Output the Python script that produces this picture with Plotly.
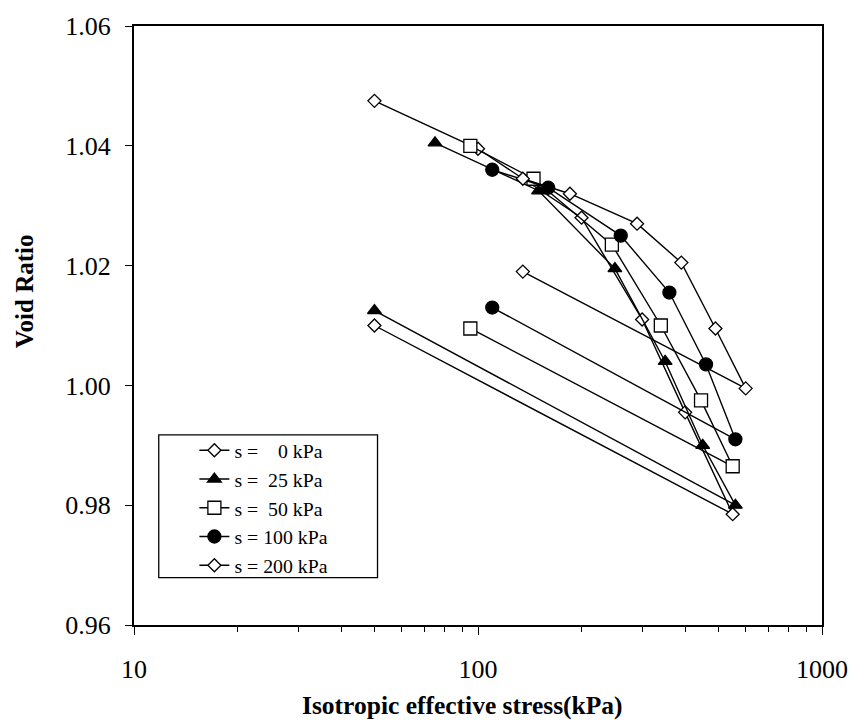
import plotly.graph_objects as go

# ---- data ----
names = ["s =\u00a0\u00a0\u00a0\u00a00 kPa", "s =\u00a0\u00a025 kPa", "s =\u00a0\u00a050 kPa",
         "s = 100 kPa", "s = 200 kPa"]

x_s0 = [50, 100, 200, 300, 400, 550, 50]
y_s0 = [1.0475, 1.0395, 1.028, 1.011, 0.9955, 0.9785, 1.010]

x_s25 = [75, 150, 250, 350, 450, 560, 50]
y_s25 = [1.0405, 1.0325, 1.0195, 1.004, 0.990, 0.980, 1.0125]

x_s50 = [95, 145, 245, 340, 445, 550, 95]
y_s50 = [1.040, 1.0345, 1.0235, 1.010, 0.9975, 0.9865, 1.0095]

x_s100 = [110, 160, 260, 360, 460, 560, 110]
y_s100 = [1.036, 1.033, 1.025, 1.0155, 1.0035, 0.991, 1.013]

x_s200 = [135, 185, 290, 390, 490, 600, 135]
y_s200 = [1.0345, 1.032, 1.027, 1.0205, 1.0095, 0.9995, 1.019]

x_ticks = [10, 100, 1000]
y_ticks = [0.96, 0.98, 1.00, 1.02, 1.04, 1.06]

x_title = "Isotropic effective stress(kPa)"
y_title = "Void Ratio"

series = [
    (x_s0, y_s0, "diamond", "white", 10),
    (x_s25, y_s25, "triangle-up", "black", 12),
    (x_s50, y_s50, "square", "white", 13),
    (x_s100, y_s100, "circle", "black", 13),
    (x_s200, y_s200, "diamond", "white", 10),
]

FONT = "Liberation Serif, Times New Roman, serif"

fig = go.Figure()
for (xs, ys, sym, fill, sz), nm in zip(series, names):
    fig.add_trace(go.Scatter(
        x=xs, y=ys, name=nm, mode="lines+markers",
        line=dict(color="black", width=1.4),
        marker=dict(symbol=sym, size=sz, color=fill,
                    line=dict(color="black", width=1.3)),
    ))

minor_vals = [v * m for m in (10, 100) for v in range(2, 10)]

# plot area in pixels: x 134..829, y 17..625
L, R, T, B = 134, 829, 17, 625
W, H = R - L, B - T


def px(xp):
    return (xp - L) / W


def py(yp):
    return (B - yp) / H


fig.update_layout(
    width=860, height=727,
    margin=dict(l=L, r=860 - R, t=T, b=727 - B),
    paper_bgcolor="white", plot_bgcolor="white",
    font=dict(family=FONT, color="black", size=26),
    showlegend=True,
    legend=dict(
        x=px(195), y=py(428), xanchor="left", yanchor="top",
        borderwidth=0, bgcolor="rgba(0,0,0,0)",
        font=dict(family=FONT, size=19.8, color="black"),
        tracegroupgap=0, itemwidth=30,
    ),
    shapes=[dict(type="rect", xref="paper", yref="paper",
                 x0=px(159), x1=px(380), y0=py(577), y1=py(432),
                 line=dict(color="black", width=1.3),
                 fillcolor="rgba(0,0,0,0)", layer="below")],
    annotations=[
        dict(text="<b>" + x_title + "</b>", xref="paper", yref="paper",
             x=px(466), y=py(707), xanchor="center", yanchor="middle",
             showarrow=False, font=dict(family=FONT, size=25.5)),
        dict(text="<b>" + y_title + "</b>", xref="paper", yref="paper",
             x=px(23), y=py(286), xanchor="center", yanchor="middle",
             textangle=-90, showarrow=False, font=dict(family=FONT, size=25)),
    ],
    xaxis=dict(
        type="log", range=[1, 3],
        tickvals=x_ticks, ticktext=[str(v) for v in x_ticks],
        ticks="outside", ticklen=8, tickwidth=1.3, tickcolor="black",
        ticklabelstandoff=12,
        minor=dict(tickvals=minor_vals, ticks="outside", ticklen=5,
                   tickwidth=1.2, tickcolor="black", showgrid=False),
        showline=True, linecolor="black", linewidth=2, mirror=True,
        showgrid=False, zeroline=False,
        tickfont=dict(family=FONT, size=26),
    ),
    yaxis=dict(
        range=[0.96, 1.06], tickvals=y_ticks, tickformat=".2f",
        ticks="outside", ticklen=7, tickwidth=1.3, tickcolor="black",
        ticklabelstandoff=9,
        showline=True, linecolor="black", linewidth=2, mirror=True,
        showgrid=False, zeroline=False,
        tickfont=dict(family=FONT, size=26),
    ),
)

fig.write_html("out.html")
